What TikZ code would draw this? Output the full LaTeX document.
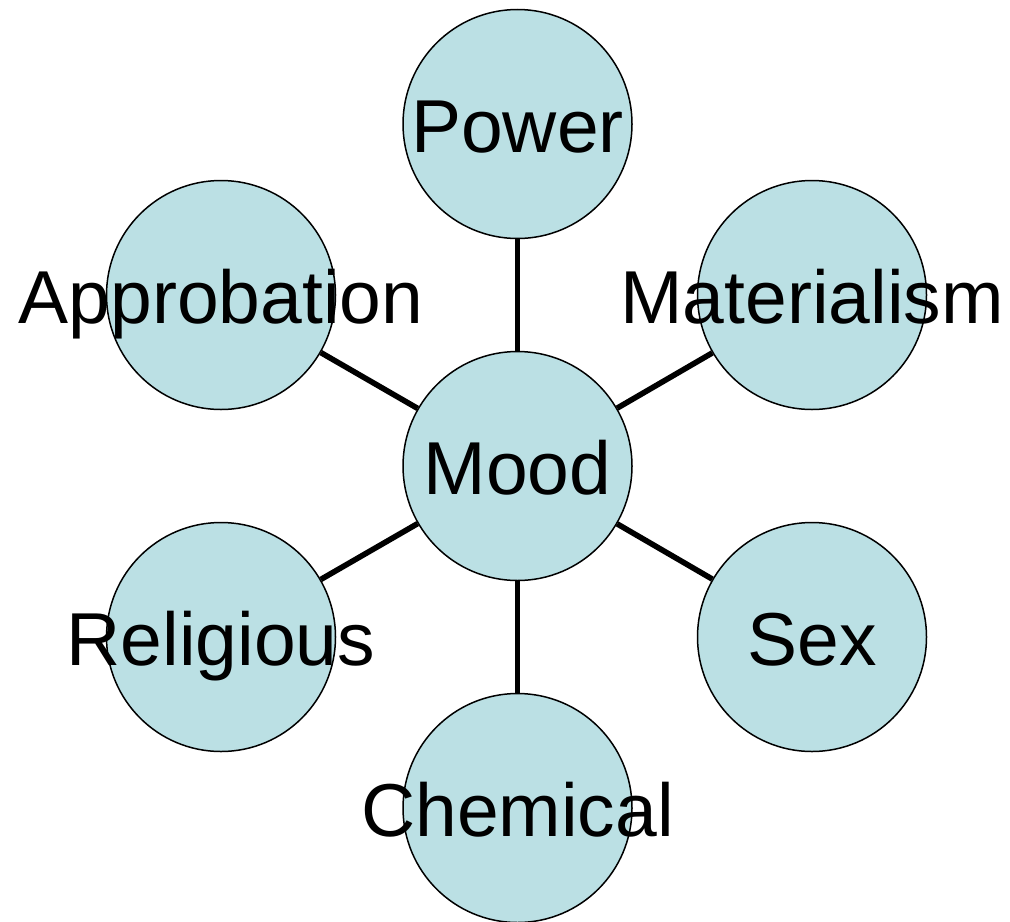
\documentclass[tikz,border=0pt]{standalone}
\usepackage{fontspec}
\setmainfont{Liberation Sans}
\definecolor{bubblefill}{RGB}{187,224,228}
\begin{document}
\begin{tikzpicture}[x=0.5pt,y=-0.5pt,
    bubble/.style={circle,draw=black,line width=0.75pt,fill=bubblefill,
      minimum size=114.5pt,inner sep=0pt},
    word/.style={inner sep=0pt,anchor=base,yshift=-14pt,
      font=\fontsize{37.5}{45}\selectfont},
    spoke/.style={line width=2.8pt}]
  \useasboundingbox (0,0) rectangle (1010,921);
  \node[bubble] (mood) at (517.5,466) {};
  \node[word] (mood-text) at (mood) {Mood};
  \foreach \name/\txt/\x/\y in {power/Power/517.5/124,
      materialism/Materialism/812/295, sex/Sex/812/637,
      chemical/Chemical/517.5/808, religious/Religious/221/637,
      approbation/Approbation/221/295}
  {
    \node[bubble] (\name) at (\x,\y) {};
    \node[word] (\name-text) at (\name) {\txt};
    \draw[spoke] (mood) -- (\name);
  }
\end{tikzpicture}
\end{document}
